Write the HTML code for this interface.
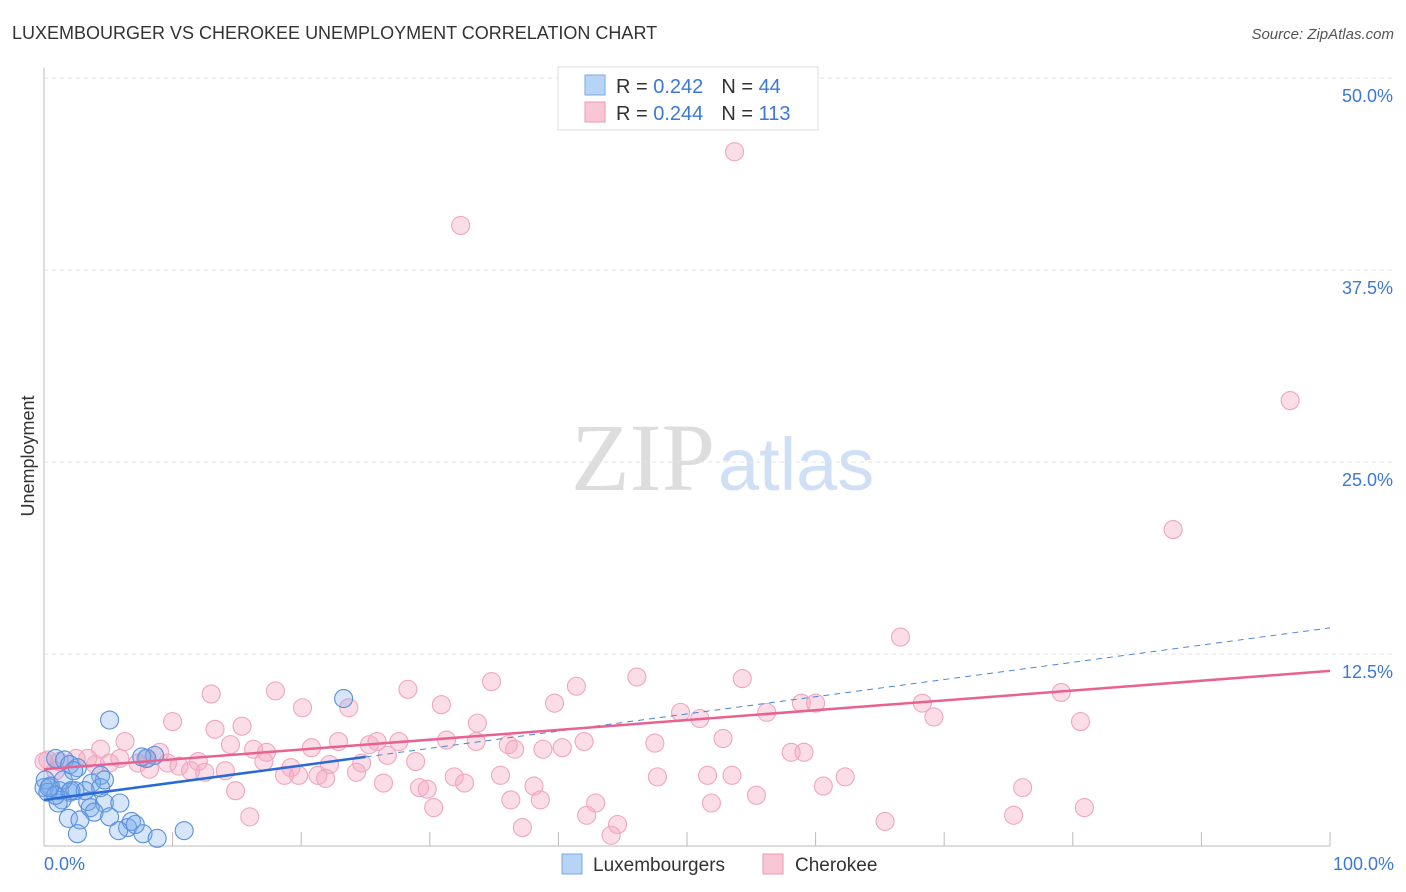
<!DOCTYPE html>
<html><head><meta charset="utf-8"><style>
body{margin:0;background:#fff;font-family:"Liberation Sans",sans-serif}
svg{display:block}
</style></head><body>
<svg id="chart" width="1406" height="892" xmlns="http://www.w3.org/2000/svg">
<text x="12" y="39" font-size="18" fill="#333">LUXEMBOURGER VS CHEROKEE UNEMPLOYMENT CORRELATION CHART</text>
<text x="1394" y="39" font-size="15" fill="#555" font-style="italic" text-anchor="end">Source: ZipAtlas.com</text>
<text x="715" y="490" font-size="96" fill="#ddd" text-anchor="end" font-family="Liberation Serif,serif">ZIP</text>
<text x="718" y="490" font-size="74" fill="#cfe0f5">atlas</text>
<text transform="translate(34,456) rotate(-90)" font-size="18" fill="#333" text-anchor="middle">Unemployment</text>
<g id="grid"></g><g id="pts"></g><g id="lines"></g>
<g>
<rect x="558" y="67" width="260" height="63" fill="#fff" stroke="#ddd"/>
<rect x="585" y="75" width="20" height="20" fill="#b7d3f5" stroke="#7aa8e0"/>
<rect x="585" y="102" width="20" height="20" fill="#f9c6d5" stroke="#eb9ab3"/>
<text x="616" y="93" font-size="20" fill="#333">R = <tspan fill="#3b78d8">0.242</tspan><tspan dx="18">N = </tspan><tspan fill="#3b78d8">44</tspan></text>
<text x="616" y="120" font-size="20" fill="#333">R = <tspan fill="#3b78d8">0.244</tspan><tspan dx="18">N = </tspan><tspan fill="#3b78d8">113</tspan></text>
</g>
<g>
<rect x="562" y="854" width="20" height="20" fill="#b7d3f5" stroke="#7aa8e0"/>
<text x="593" y="871" font-size="19" fill="#333">Luxembourgers</text>
<rect x="763" y="854" width="20" height="20" fill="#f9c6d5" stroke="#eb9ab3"/>
<text x="795" y="871" font-size="19" fill="#333">Cherokee</text>
</g>
</svg>
<script>
const yTicks=[12.5,25,37.5,50];
const yTickLabels=["12.5%","25.0%","37.5%","50.0%"];
const xTickLabels=["0.0%","100.0%"];
const luxX=[5.1,23.3,8.6,8.0,0.9,1.6,2.0,2.6,0.1,0.5,1.2,2.0,4.4,4.7,3.7,4.4,1.4,1.1,3.4,4.7,3.6,5.9,1.9,2.8,3.9,5.1,6.5,6.8,5.8,7.7,8.8,10.9,2.6,0.0,0.3,0.9,2.4,3.2,1.5,7.1,2.3,7.6,0.4,2.1];
const luxY=[8.2,9.6,5.9,5.7,5.7,5.6,5.3,5.1,4.3,3.9,3.6,3.5,4.6,4.3,4.1,3.8,3.0,2.8,2.9,2.8,2.5,2.8,1.8,1.7,2.2,1.9,1.2,1.6,1.0,0.8,0.5,1.0,0.8,3.8,3.5,3.3,3.6,3.6,4.3,1.4,4.9,5.8,3.8,3.6];
const cheX=[53.7,32.4,96.9,87.8,66.6,13.0,28.3,34.8,41.4,46.1,54.3,18.0,20.1,23.7,30.9,39.7,58.9,60.0,68.3,79.1,10.0,13.3,15.4,33.7,49.5,51.0,56.2,69.2,80.6,6.3,14.5,16.3,17.3,20.8,22.9,25.3,25.9,27.6,31.3,33.6,36.1,36.6,38.8,40.3,42.0,47.5,52.8,58.1,59.1,4.4,9.0,0.3,1.2,2.5,4.0,5.1,7.3,8.2,9.6,12.0,10.5,17.1,19.2,22.2,24.7,26.7,28.9,11.4,12.5,14.1,18.7,19.8,21.3,21.9,24.3,31.9,32.7,35.5,47.7,51.6,53.5,62.3,14.9,26.4,29.2,29.8,38.1,60.6,76.1,36.3,38.6,42.9,51.9,55.4,30.3,16.0,42.2,44.6,65.4,75.4,80.9,37.2,44.1,0.0,3.4,5.9,0.9,7.9];
const cheY=[45.2,40.4,29.0,20.6,13.6,9.9,10.2,10.7,10.4,11.0,10.9,10.1,9.0,9.0,9.2,9.3,9.3,9.3,9.3,10.0,8.1,7.6,7.8,8.0,8.7,8.3,8.7,8.4,8.1,6.8,6.6,6.3,6.1,6.4,6.8,6.6,6.8,6.8,6.9,6.8,6.6,6.3,6.3,6.4,6.8,6.7,7.0,6.1,6.1,6.3,6.1,5.6,5.5,5.7,5.3,5.4,5.4,5.0,5.4,5.5,5.2,5.5,5.1,5.3,5.4,5.9,5.5,4.9,4.8,4.9,4.6,4.6,4.6,4.4,4.8,4.5,4.1,4.6,4.5,4.6,4.6,4.5,3.6,4.1,3.8,3.7,3.9,3.9,3.8,3.0,3.0,2.8,2.8,3.3,2.5,1.9,2.0,1.4,1.6,2.0,2.5,1.2,0.7,5.5,5.7,5.7,4.9,5.7];
const luxTrend=[3.0,14.2];
const cheTrend=[5.0,11.4];
const NS="http://www.w3.org/2000/svg";
const sx=v=>44+v*12.86, sy=v=>846-v*15.36;
function mk(t,a,p){const e=document.createElementNS(NS,t);for(const k in a)e.setAttribute(k,a[k]);p.appendChild(e);return e;}
const grid=document.getElementById('grid');
yTicks.forEach((t,i)=>{
 const l=mk('line',{x1:44,x2:1394,y1:sy(t),y2:sy(t),stroke:'#e2e2e2','stroke-dasharray':'4,4'},grid);
 
 
 const tx=mk('text',{x:1393,y:sy(t)+24,'font-size':18,fill:'#3b78d8','text-anchor':'end'},grid);
 tx.textContent=yTickLabels[i];
 
 
});
mk('line',{x1:44,x2:44,y1:68,y2:846,stroke:'#bbb'},grid);
mk('line',{x1:44,x2:1330,y1:846,y2:846,stroke:'#bbb'},grid);
for(let i=0;i<=10;i++){mk('line',{x1:sx(i*10),x2:sx(i*10),y1:832,y2:846,stroke:'#bbb'},grid);}
[[0,44,'start'],[100,1394,'end']].forEach((d,i)=>{
 const t=mk('text',{x:d[1],y:870,'font-size':18,fill:'#3b78d8','text-anchor':d[2]},grid);
 t.textContent=xTickLabels[i];
 
 
});
const pts=document.getElementById('pts');
cheX.forEach((x,i)=>{
 const c=mk('circle',{cx:sx(x),cy:sy(cheY[i]),r:9,fill:'rgba(245,170,195,0.4)',stroke:'#efa6bd','stroke-width':1.1},pts);
 
 
});
luxX.forEach((x,i)=>{
 const c=mk('circle',{cx:sx(x),cy:sy(luxY[i]),r:9,fill:'rgba(120,170,235,0.3)',stroke:'#5a90dc','stroke-width':1.1},pts);
 
 
});
const lines=document.getElementById('lines');
const ly=x=>luxTrend[0]+(luxTrend[1]-luxTrend[0])*x/100;
const cy=x=>cheTrend[0]+(cheTrend[1]-cheTrend[0])*x/100;
const l1=mk('line',{x1:sx(25),y1:sy(ly(25)),x2:sx(100),y2:sy(ly(100)),stroke:'#4a86d8','stroke-width':1,'stroke-dasharray':'6,5'},lines);


const l2=mk('line',{x1:sx(0),y1:sy(ly(0)),x2:sx(25),y2:sy(ly(25)),stroke:'#2a6ad6','stroke-width':2.5},lines);


const l3=mk('line',{x1:sx(0),y1:sy(cy(0)),x2:sx(100),y2:sy(cy(100)),stroke:'#e8628f','stroke-width':2.5},lines);


</script>
</body></html>
